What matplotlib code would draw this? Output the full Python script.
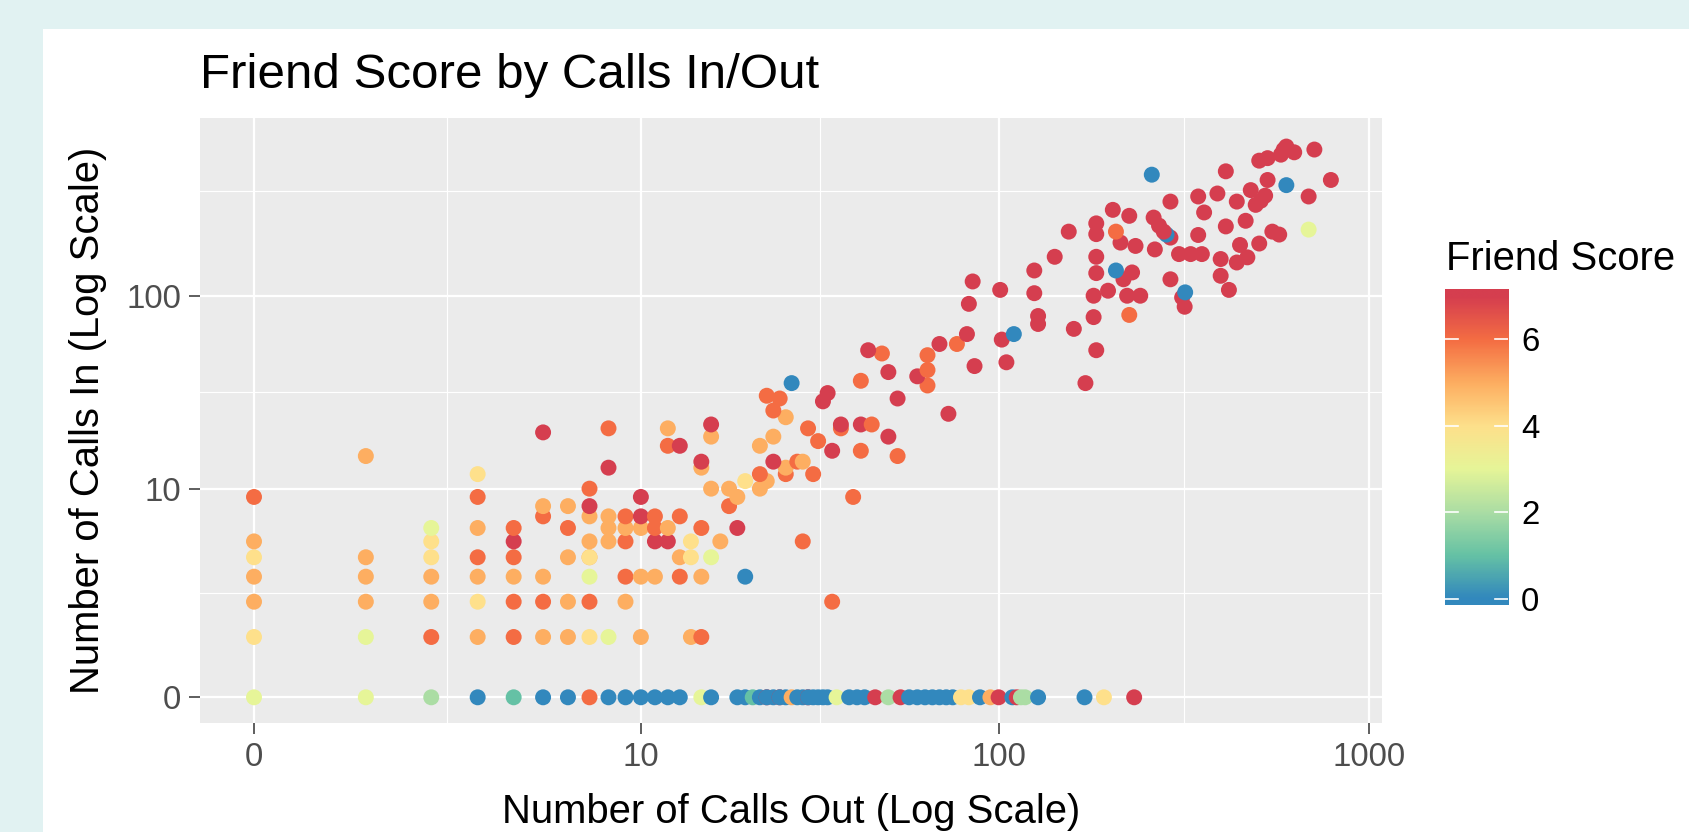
import numpy as np
import matplotlib
matplotlib.use('Agg')
import matplotlib.pyplot as plt
from matplotlib.colors import LinearSegmentedColormap, Normalize
from matplotlib.patches import Rectangle

plt.rcParams['font.family'] = ['Liberation Sans', 'DejaVu Sans']

# ---- data: calls out, calls in, friend score ----
# people with no incoming calls
zero_out = [0, 1, 2, 3, 4, 5, 6, 7, 8, 9, 10, 11, 12, 13, 15, 16, 19, 20, 21, 22,
            23, 23, 24, 25, 25, 26, 27, 28, 29, 30, 30, 31, 32, 33, 34, 36, 39, 41, 43, 46,
            50, 54, 57, 60, 63, 66, 69, 72, 75, 79, 83, 89, 95, 100, 109, 112, 115, 118, 128, 171,
            193, 233]
zero_score = [3, 3, 2, 0, 1, 0, 0, 6, 0, 0, 0, 0, 0, 0, 3, 0, 0, 0, 1, 0,
              7, 0, 0, 7, 0, 0, 5, 0, 0, 7, 0, 0, 0, 0, 0, 3, 0, 0, 0, 7,
              2, 7, 0, 0, 0, 0, 0, 0, 0, 4, 4, 0, 5, 7, 0, 7, 2, 2, 0, 0,
              4, 7]

# small incoming counts, one row per calls-in level
low_in_levels = [1, 2, 3, 4, 5, 6, 7, 8, 9, 10, 11, 12, 13, 14, 15, 16, 17, 18, 19, 20, 21, 22]
low_out = [
    [0, 1, 2, 3, 4, 5, 6, 7, 8, 10, 14, 15],
    [0, 1, 2, 3, 4, 5, 6, 7, 9, 35],
    [0, 1, 2, 3, 4, 5, 7, 9, 10, 11, 13, 15, 20],
    [0, 1, 2, 3, 4, 6, 7, 7, 13, 14, 16],
    [0, 2, 4, 7, 8, 9, 11, 12, 14, 17, 29],
    [2, 3, 4, 6, 8, 9, 10, 11, 12, 15, 19],
    [5, 7, 8, 9, 10, 11, 13],
    [5, 6, 7, 18],
    [0, 3, 10, 19, 40],
    [7, 16, 18, 22],
    [20, 23],
    [3, 22, 26, 31],
    [8, 15, 26],
    [15, 24, 28, 29],
    [1, 53],
    [35, 42],
    [12, 13, 22],
    [32],
    [16, 24, 50],
    [5],
    [8, 12, 30, 37],
    [16, 37, 42, 45],
]
low_score = [
    [4, 3, 6, 5, 6, 5, 5, 4, 3, 5, 5, 6],
    [5, 5, 5, 4, 6, 6, 5, 6, 5, 6],
    [5, 5, 5, 5, 5, 5, 3, 6, 5, 5, 6, 5, 0],
    [4, 5, 4, 6, 6, 5, 5, 4, 5, 4, 3],
    [5, 4, 7, 5, 5, 6, 7, 7, 4, 5, 6],
    [3, 5, 6, 6, 5, 5, 5, 6, 5, 6, 7],
    [6, 5, 5, 6, 7, 6, 6],
    [5, 5, 7, 6],
    [6, 6, 7, 5, 6],
    [6, 5, 5, 5],
    [4, 5],
    [4, 6, 6, 6],
    [7, 5, 5],
    [7, 7, 6, 5],
    [5, 6],
    [7, 6],
    [6, 7, 5],
    [6],
    [5, 5, 7],
    [7],
    [6, 5, 6, 6],
    [7, 7, 7, 6],
]

# heavier callers
high_out = [26, 73, 24, 33, 25, 53, 23, 34, 64, 27,
            172, 42, 60, 50, 64, 86, 105, 64, 48, 44,
            184, 69, 77, 102, 82, 110, 160, 128, 181, 128,
            226, 319, 83, 314, 181, 223, 242, 125, 320, 198,
            101, 420, 85, 218, 292, 399, 184, 230, 125, 208,
            441, 399, 471, 142, 184, 308, 331, 355, 265, 235,
            450, 507, 214, 292, 347, 574, 285, 184, 280, 155,
            208, 550, 689, 412, 272, 184, 466, 263, 226, 360,
            204, 496, 292, 441, 512, 347, 689, 526, 391, 481,
            600, 534, 791, 260, 412, 507, 534, 580, 630, 590,
            714, 600]
high_in = [24, 25, 26, 29, 30, 30, 31, 32, 35, 36,
           36, 37, 39, 41, 42, 44, 46, 50, 51, 53,
           53, 57, 57, 60, 64, 64, 68, 72, 78, 79,
           80, 88, 91, 98, 100, 100, 100, 103, 104, 106,
           107, 107, 118, 121, 121, 126, 130, 131, 134, 134,
           147, 153, 156, 157, 157, 162, 162, 162, 171, 178,
           180, 183, 185, 196, 202, 203, 203, 204, 210, 210,
           210, 210, 215, 223, 225, 231, 238, 247, 252, 262,
           270, 286, 297, 297, 300, 315, 315, 318, 326, 339,
           359, 381, 381, 405, 421, 476, 490, 510, 524, 540,
           541, 560]
high_score = [5, 7, 6, 7, 6, 7, 6, 7, 6, 0,
              7, 6, 7, 7, 6, 7, 7, 6, 6, 7,
              7, 7, 6, 7, 7, 0, 7, 7, 7, 7,
              6, 7, 7, 7, 7, 7, 7, 7, 0, 7,
              7, 7, 7, 7, 7, 7, 7, 7, 7, 0,
              7, 7, 7, 7, 7, 7, 7, 7, 7, 7,
              7, 7, 7, 7, 7, 7, 0, 7, 7, 7,
              6, 7, 3, 7, 7, 7, 7, 7, 7, 7,
              7, 7, 7, 7, 7, 7, 7, 7, 7, 7,
              0, 7, 7, 0, 7, 7, 7, 7, 7, 7,
              7, 7]

x_ticks = [0, 10, 100, 1000]
y_ticks = [0, 10, 100]
score_ticks = [0, 2, 4, 6]

# ---- assemble ----
row_len = [len(r) for r in low_out]
calls_out = np.concatenate([zero_out, np.concatenate(low_out), high_out])
calls_in = np.concatenate([np.zeros(len(zero_out)), np.repeat(low_in_levels, row_len), high_in])
friend_score = np.concatenate([zero_score, np.concatenate(low_score), high_score])

# one colour per score step, blue (0) to red (7)
spectral = LinearSegmentedColormap.from_list(
    'spectral8', ['#3288BD', '#66C2A5', '#ABDDA4', '#E6F598',
                  '#FEE08B', '#FDAE61', '#F46D43', '#D53E4F'])
norm = Normalize(0, 7)


def fwd(v):
    return np.log10(np.clip(np.asarray(v, dtype=float) + 1, 1e-6, None))


def inv(t):
    return 10 ** np.asarray(t, dtype=float) - 1


def mid(a, b):
    # ggplot minor break: halfway between majors in log1p space
    return inv((fwd(a) + fwd(b)) / 2)


W, H = 1689, 832
fig = plt.figure(figsize=(W / 100, H / 100), dpi=100, facecolor='#e1f2f2')
fig.patches.append(Rectangle((43 / W, 0), 1, 1 - 29 / H, transform=fig.transFigure,
                             facecolor='white', edgecolor='none', zorder=-10))

ax = fig.add_axes([200 / W, 1 - 723 / H, 1182 / W, 605 / H])
ax.set_xscale('function', functions=(fwd, inv))
ax.set_yscale('function', functions=(fwd, inv))
ax.set_facecolor('#ebebeb')
for s in ax.spines.values():
    s.set_visible(False)

ax.scatter(calls_out, calls_in, c=friend_score, cmap=spectral, norm=norm,
           s=132, linewidths=0, zorder=3)

ax.set_xlim(inv(-54 / 371.5), inv(1128 / 371.5))
ax.set_ylim(inv(-25.7 / 200.35), inv(579.3 / 200.35))

ax.set_xticks(x_ticks)
ax.set_xticklabels([str(v) for v in x_ticks])
ax.set_yticks(y_ticks)
ax.set_yticklabels([str(v) for v in y_ticks])
ax.set_xticks([mid(0, 10), mid(10, 100), mid(100, 1000)], minor=True)
ax.set_yticks([mid(0, 10), mid(10, 100), inv(fwd(100) + (fwd(10) - fwd(0)) / 2)], minor=True)

ax.grid(which='major', color='white', lw=1.6, zorder=1)
ax.grid(which='minor', color='white', lw=0.8, zorder=1)
ax.set_axisbelow(True)
ax.tick_params(which='major', length=7.9, width=1.1, color='#333333', pad=5.5,
               labelsize=23.8, labelcolor='#4d4d4d')
ax.tick_params(which='minor', length=0)

fig.text(200 / W, 1 - 88 / H, 'Friend Score by Calls In/Out', fontsize=35.5,
         ha='left', va='baseline')
fig.text(791 / W, 1 - 823 / H, 'Number of Calls Out (Log Scale)', fontsize=28.8,
         ha='center', va='baseline')
fig.text(88 / W, 1 - 420.5 / H, 'Number of Calls In (Log Scale)', fontsize=28.8,
         ha='center', va='center', rotation=90)

# colour bar
lo, hi = -6 / 43.28, 7 + 6.8 / 43.28
cax = fig.add_axes([1445 / W, 1 - 605 / H, 63 / W, 316 / H])
grad = np.linspace(lo, hi, 300)[:, None]
cax.imshow(grad, aspect='auto', origin='lower', extent=[0, 1, lo, hi],
           cmap=spectral, norm=norm)
cax.set_xlim(0, 1)
cax.set_ylim(lo, hi)
cax.set_xticks([])
cax.set_yticks(score_ticks)
cax.yaxis.tick_right()
cax.tick_params(length=0, pad=9.5, labelsize=23.8, labelcolor='black')
for s in cax.spines.values():
    s.set_visible(False)
for v in score_ticks:
    cax.plot([0, 0.2], [v, v], color='white', lw=1.2)
    cax.plot([0.8, 1], [v, v], color='white', lw=1.2)
fig.text(1446 / W, 1 - 270 / H, 'Friend Score', fontsize=28.8, ha='left', va='baseline')

fig.savefig('out.png', dpi=100, facecolor=fig.get_facecolor())
